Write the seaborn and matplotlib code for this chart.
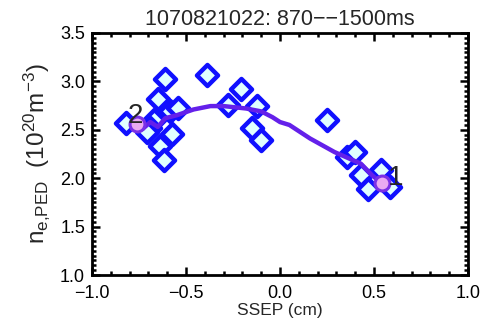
import numpy as np
import pandas as pd
import seaborn as sns
import matplotlib.pyplot as plt
from matplotlib.ticker import MultipleLocator

# measured points (SSEP, n_e,PED)
ssep = [-0.82, -0.61, -0.39, -0.65, -0.585, -0.54, -0.67, -0.575, -0.64, -0.615,
        -0.69, -0.71, -0.275, -0.205, -0.125, -0.15, -0.10, 0.25, 0.355, 0.40,
        0.43, 0.535, 0.47, 0.585]
ne_ped = [2.57, 3.02, 3.07, 2.82, 2.69, 2.73, 2.60, 2.46, 2.33, 2.19,
          2.52, 2.48, 2.76, 2.92, 2.75, 2.52, 2.39, 2.60, 2.22, 2.27,
          2.03, 2.08, 1.89, 1.91]

# smoothed trend
fit_x = [-0.76, -0.73, -0.69, -0.65, -0.61, -0.55, -0.46, -0.37, -0.30, -0.18,
         -0.10, -0.04, 0.0, 0.05, 0.16, 0.29, 0.43, 0.49, 0.54]
fit_y = [2.56, 2.51, 2.58, 2.53, 2.62, 2.65, 2.71, 2.745, 2.745, 2.72,
         2.69, 2.63, 2.58, 2.55, 2.41, 2.27, 2.15, 2.03, 1.95]

end_x = [0.54, -0.76]
end_y = [1.95, 2.56]
end_labels = ["1", "2"]

sns.set_style("ticks")
plt.rcParams['font.family'] = ['Liberation Sans', 'DejaVu Sans']
plt.rcParams['mathtext.fontset'] = 'custom'
plt.rcParams['mathtext.rm'] = 'Liberation Sans'
plt.rcParams['mathtext.it'] = 'Liberation Sans'

fig = plt.figure(figsize=(4.9, 3.21), dpi=100)
ax = fig.add_axes([0.1878, 0.1433, 0.7673, 0.7539])

pts = pd.DataFrame({"x": ssep, "y": ne_ped})
sns.scatterplot(data=pts, x="x", y="y", marker="D", s=115, color="#e0ffff",
                edgecolor="#1010ff", linewidth=3.2, ax=ax, zorder=3)

fit = pd.DataFrame({"x": fit_x, "y": fit_y})
sns.lineplot(data=fit, x="x", y="y", sort=False, color="#6420ea", linewidth=3.2,
             ax=ax, zorder=4)

ends = pd.DataFrame({"x": end_x, "y": end_y})
sns.scatterplot(data=ends, x="x", y="y", marker="o", s=115, color="#eaaaf2",
                edgecolor="#7a30e6", linewidth=2.2, ax=ax, zorder=5)

ax.text(0.572, 1.93, end_labels[0], fontsize=20, ha="left", va="baseline", zorder=6)
ax.text(-0.81, 2.57, end_labels[1], fontsize=20, ha="left", va="baseline", zorder=6)

ax.set_xlim(-1.0, 1.0)
ax.set_ylim(1.0, 3.5)
ax.xaxis.set_major_locator(MultipleLocator(0.5))
ax.xaxis.set_minor_locator(MultipleLocator(0.1))
ax.yaxis.set_major_locator(MultipleLocator(0.5))
ax.yaxis.set_minor_locator(MultipleLocator(0.05))
ax.xaxis.set_major_formatter(plt.FuncFormatter(lambda v, p: f"{v:.1f}".replace("-", "\u2212")))
ax.yaxis.set_major_formatter(plt.FuncFormatter(lambda v, p: f"{v:.1f}"))
ax.tick_params(which="both", direction="in", top=True, right=True, width=1.8,
               labelsize=13, colors="black")
ax.tick_params(which="major", length=6)
ax.tick_params(which="minor", length=3)
ax.tick_params(axis="x", which="major", pad=7)
ax.tick_params(axis="y", which="major", pad=5)
for sp in ax.spines.values():
    sp.set_linewidth(2)
    sp.set_color("black")

ax.set_xlabel("SSEP (cm)", fontsize=12.5, labelpad=1)
ax.set_ylabel(r"$\mathregular{n_{e{,}PED}\ \ (10^{20}m^{-3})}$", fontsize=17.5, labelpad=6)
ax.set_title("1070821022: 870\u2212\u22121500ms", fontsize=15.5, pad=6)

fig.savefig("out.png", dpi=100)
